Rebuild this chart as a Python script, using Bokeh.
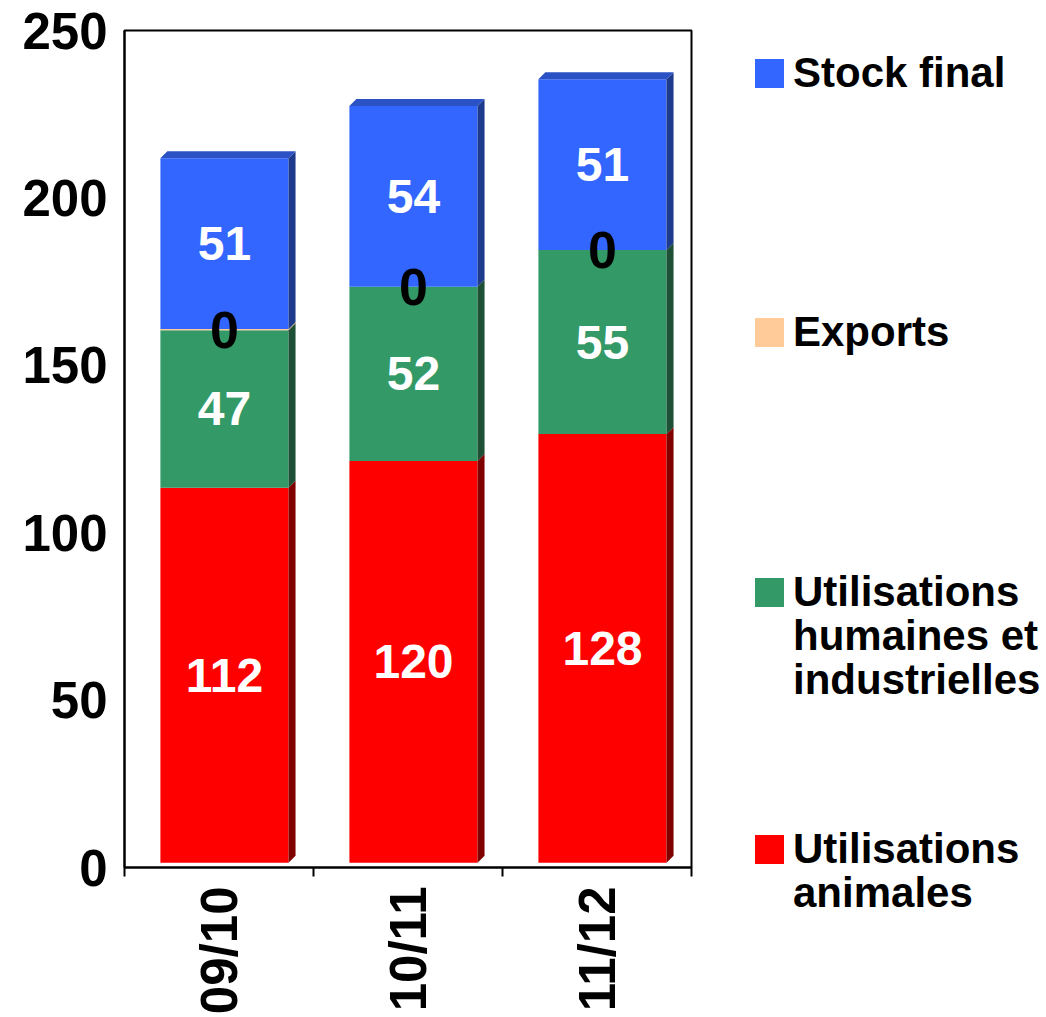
import math
from bokeh.plotting import figure
from bokeh.layouts import row
from bokeh.models import Range1d, FixedTicker, ColumnDataSource, Div
from bokeh.core.properties import value
from bokeh.embed import file_html
from bokeh.resources import INLINE

# ---------------- data ----------------
seasons = ["09/10", "10/11", "11/12"]
animales = [112, 120, 128]
humaines = [47, 52, 55]
exports = [0.4, 0, 0]
stock = [51, 54, 51]

series_names = ["Utilisations animales", "Utilisations humaines et industrielles", "Exports", "Stock final"]
series_values = [animales, humaines, exports, stock]
front_colors = ["#FF0000", "#339966", "#FFCC99", "#3366FF"]
side_colors = ["#800000", "#1D5035", "#B08C66", "#1E3A8C"]
top_color = "#2A52C4"
label_colors = ["white", "white", "black", "white"]
label_sizes = ["48px", "48px", "52px", "48px"]

# legend entries (top to bottom), each split into its printed lines
legend_series = [3, 2, 1, 0]
legend_lines = [["Stock final"], ["Exports"], ["Utilisations", "humaines et", "industrielles"], ["Utilisations", "animales"]]

FONT = "Liberation Sans"

# ---------------- geometry parameters (3D look) ----------------
half_w = 0.339
shift = 0.029
dx = 0.037     # depth in category units
dy = 2.08      # depth in value units
lift = 1.45    # front face lifted

p = figure(width=740, height=1017, x_range=Range1d(0, 3), y_range=Range1d(0, 250),
           output_backend="svg", toolbar_location=None, title_location=None,
           min_border_left=124, min_border_right=49, min_border_top=30, min_border_bottom=146)
p.grid.visible = False
p.outline_line_color = "black"
p.outline_line_width = 2
p.background_fill_color = "white"
p.border_fill_color = "white"

# y axis
p.yaxis.ticker = FixedTicker(ticks=[0, 50, 100, 150, 200, 250])
p.yaxis.major_tick_line_color = None
p.yaxis.major_tick_out = 0
p.yaxis.major_tick_in = 0
p.yaxis.minor_tick_line_color = None
p.yaxis.major_label_standoff = 17
p.yaxis.major_label_text_font = FONT
p.yaxis.major_label_text_font_style = "bold"
p.yaxis.major_label_text_font_size = "51px"
p.yaxis.major_label_text_color = "black"
p.yaxis.axis_line_width = 2
p.yaxis.axis_line_color = "black"

# x axis
centers = [i + 0.5 for i in range(len(seasons))]
p.xaxis.ticker = FixedTicker(ticks=centers, minor_ticks=[0, 1, 2, 3])
p.xaxis.major_label_overrides = {c: s for c, s in zip(centers, seasons)}
p.xaxis.major_tick_line_color = None
p.xaxis.major_tick_out = 0
p.xaxis.major_tick_in = 0
p.xaxis.minor_tick_line_color = "black"
p.xaxis.minor_tick_line_width = 2
p.xaxis.minor_tick_out = 9
p.xaxis.minor_tick_in = 0
p.xaxis.major_label_orientation = math.pi / 2
p.xaxis.major_label_standoff = 10
p.xaxis.major_label_text_font = FONT
p.xaxis.major_label_text_font_style = "bold"
p.xaxis.major_label_text_font_size = "51px"
p.xaxis.major_label_text_color = "black"
p.xaxis.axis_line_width = 2
p.xaxis.axis_line_color = "black"

# ---------------- bars ----------------
n = len(seasons)
bottoms = [0.0] * n
lab_x, lab_y, lab_t, lab_c, lab_s = [], [], [], [], []
for k, vals in enumerate(series_values):
    left, right, top, bottom = [], [], [], []
    sx, sy = [], []
    for i in range(n):
        c = centers[i] + shift
        y0 = bottoms[i] + lift
        y1 = bottoms[i] + vals[i] + lift
        xl, xr = c - half_w, c + half_w
        left.append(xl); right.append(xr); bottom.append(y0); top.append(y1)
        sx.append([xr, xr + dx, xr + dx, xr])
        sy.append([y0, y0 + dy, y1 + dy, y1])
        lab_x.append(c)
        lab_y.append((y0 + y1) / 2)
        lab_t.append(str(int(round(vals[i]))))
        lab_c.append(label_colors[k])
        lab_s.append(label_sizes[k])
    p.quad(left=left, right=right, top=top, bottom=bottom,
           fill_color=front_colors[k], line_color=None)
    p.patches(xs=sx, ys=sy, fill_color=side_colors[k], line_color=None)
    bottoms = [bottoms[i] + vals[i] for i in range(n)]

# top faces
tx, ty = [], []
for i in range(n):
    c = centers[i] + shift
    xl, xr = c - half_w, c + half_w
    yt = bottoms[i] + lift
    tx.append([xl, xl + dx, xr + dx, xr])
    ty.append([yt, yt + dy, yt + dy, yt])
p.patches(xs=tx, ys=ty, fill_color=top_color, line_color=None)

# value labels (white first, black "0" labels on top)
order = sorted(range(len(lab_t)), key=lambda j: 0 if lab_c[j] == "white" else 1)
src = ColumnDataSource(dict(x=[lab_x[j] for j in order], y=[lab_y[j] for j in order],
                            t=[lab_t[j] for j in order], c=[lab_c[j] for j in order],
                            s=[lab_s[j] for j in order]))
p.text(x="x", y="y", text="t", text_color="c", text_font_size="s",
       text_font=value(FONT), text_font_style="bold",
       text_align="center", text_baseline="middle", source=src)

# ---------------- legend panel (to the right of the plot) ----------------
sq_top = [59, 318, 578, 835]   # px from top of panel
sq_left, sq_size = 15, 29
txt_left, font_px, line_px = 53, 42, 44
parts = []
for j, s_idx in enumerate(legend_series):
    parts.append(
        f'<div style="position:absolute;left:{sq_left}px;top:{sq_top[j]}px;width:{sq_size}px;'
        f'height:{sq_size}px;background:{front_colors[s_idx]};"></div>')
    for m, line in enumerate(legend_lines[j]):
        baseline = sq_top[j] + sq_size + m * line_px
        top_px = baseline - 35.6
        parts.append(
            f'<div style="position:absolute;left:{txt_left}px;top:{top_px:.1f}px;font-size:{font_px}px;'
            f'line-height:{font_px}px;white-space:nowrap;">{line}</div>')
html = ('<div style="position:relative;width:306px;height:1017px;overflow:hidden;background:white;'
        f"font-family:'{FONT}',Arial,sans-serif;font-weight:bold;color:black;margin:0;padding:0;\">"
        + "".join(parts) + "</div>")
legend_panel = Div(text=html, width=306, height=1017, margin=0)

layout = row(p, legend_panel, spacing=0)
open("out.html", "w").write(file_html(layout, INLINE))
